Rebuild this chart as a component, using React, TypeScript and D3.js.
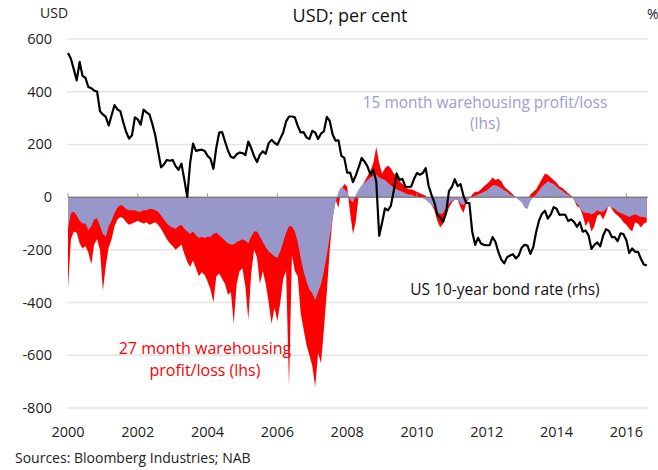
import React, { useEffect, useRef } from 'react';
import * as d3 from 'd3';

// monthly readings, Jan 2000 - Aug 2016
const startYear = 2000;

// US 10-year bond rate, per cent (rhs)
const bondRate = [
  6.66, 6.52, 6.26, 5.99, 6.44, 6.10, 6.05, 5.83, 5.80, 5.74, 5.72, 5.24, // 2000
  5.16, 5.10, 4.89, 5.14, 5.39, 5.28, 5.24, 4.97, 4.73, 4.57, 4.65, 5.09, // 2001
  5.04, 4.91, 5.28, 5.21, 5.16, 4.93, 4.65, 4.26, 3.87, 3.94, 4.05, 4.03, // 2002
  4.05, 3.90, 3.81, 3.96, 3.57, 3.15, 3.98, 4.45, 4.27, 4.29, 4.30, 4.27, // 2003
  4.15, 4.08, 3.83, 4.35, 4.72, 4.73, 4.50, 4.28, 4.13, 4.10, 4.19, 4.23, // 2004
  4.22, 4.17, 4.50, 4.34, 4.14, 4.00, 4.18, 4.26, 4.20, 4.46, 4.54, 4.47, // 2005
  4.42, 4.57, 4.72, 4.99, 5.11, 5.11, 5.09, 4.88, 4.72, 4.73, 4.60, 4.56, // 2006
  4.76, 4.72, 4.56, 4.69, 4.75, 5.10, 5.00, 4.67, 4.52, 4.53, 4.15, 4.10, // 2007
  3.74, 3.74, 3.51, 3.68, 3.88, 4.10, 4.01, 3.89, 3.69, 3.81, 3.53, 2.20, // 2008
  2.52, 2.87, 2.82, 2.93, 3.29, 3.72, 3.56, 3.59, 3.40, 3.39, 3.40, 3.59, // 2009
  3.73, 3.69, 3.73, 3.85, 3.42, 3.20, 3.01, 2.70, 2.65, 2.54, 2.76, 3.29, // 2010
  3.39, 3.58, 3.41, 3.46, 3.17, 3.00, 3.00, 2.30, 1.98, 2.15, 2.01, 1.98, // 2011
  1.97, 1.97, 2.17, 2.05, 1.80, 1.62, 1.53, 1.68, 1.72, 1.75, 1.65, 1.72, // 2012
  1.91, 1.98, 1.96, 1.76, 1.93, 2.30, 2.58, 2.74, 2.81, 2.62, 2.72, 2.90, // 2013
  2.86, 2.71, 2.72, 2.71, 2.56, 2.60, 2.54, 2.42, 2.53, 2.30, 2.33, 2.21, // 2014
  1.88, 1.98, 2.04, 1.94, 2.20, 2.36, 2.32, 2.17, 2.17, 2.07, 2.26, 2.24, // 2015
  2.09, 1.78, 1.89, 1.81, 1.81, 1.64, 1.50, 1.48 // 2016
];

// 27 month warehousing profit/loss, USD (lhs)
const profit27 = [
  -345, -160, -130, -135, -175, -195, -185, -210, -255, -180, -160, -200, // 2000
  -355, -260, -190, -160, -110, -85, -75, -80, -95, -105, -100, -95, // 2001
  -90, -95, -100, -95, -105, -100, -95, -105, -120, -140, -160, -175, // 2002
  -185, -200, -190, -180, -215, -245, -265, -240, -270, -300, -285, -295, // 2003
  -320, -350, -400, -300, -290, -310, -330, -370, -360, -480, -330, -280, // 2004
  -270, -340, -465, -290, -200, -230, -330, -280, -330, -400, -480, -420, // 2005
  -470, -400, -310, -280, -720, -220, -280, -300, -440, -500, -560, -600, // 2006
  -640, -720, -590, -630, -500, -360, -200, -80, -10, -40, 30, 50, // 2007
  40, -60, -140, -90, 10, 40, 60, 80, 100, 130, 190, 130, // 2008
  90, 110, 120, 110, 90, 80, 60, 50, 40, 30, 30, 25, // 2009
  20, 15, 10, 5, -10, -30, -50, -90, -115, -100, -70, -40, // 2010
  -20, -10, -10, -40, -60, -20, -5, 10, 20, 20, 30, 40, // 2011
  50, 60, 75, 65, 70, 60, 40, 30, 20, 10, 0, -10, // 2012
  -15, -5, -10, 10, 20, 30, 50, 70, 90, 85, 75, 65, // 2013
  55, 40, 35, 25, 15, 5, -10, -35, -40, -70, -110, -90, // 2014
  -130, -110, -70, -65, -85, -60, -30, -45, -60, -70, -80, -95, // 2015
  -105, -120, -130, -95, -100, -115, -100, -95 // 2016
];

// 15 month warehousing profit/loss, USD (lhs)
const profit15 = [
  -120, -60, -55, -70, -90, -100, -100, -125, -110, -85, -80, -110, // 2000
  -140, -150, -110, -90, -60, -40, -30, -35, -45, -50, -50, -50, // 2001
  -55, -55, -50, -50, -45, -45, -50, -55, -70, -85, -100, -110, // 2002
  -115, -120, -110, -105, -120, -130, -140, -130, -145, -155, -150, -155, // 2003
  -150, -150, -140, -135, -145, -155, -165, -175, -180, -180, -170, -165, // 2004
  -160, -165, -175, -150, -130, -130, -150, -170, -190, -205, -215, -225, // 2005
  -230, -205, -170, -135, -110, -110, -130, -170, -230, -280, -320, -350, // 2006
  -365, -390, -360, -330, -280, -220, -150, -80, -20, 20, 40, 30, // 2007
  20, -10, -20, 10, 30, 45, 55, 65, 75, 80, 85, 75, // 2008
  70, 65, 55, 45, 35, 30, 25, 20, 15, 10, 10, 5, // 2009
  0, 0, -5, -10, -20, -30, -40, -55, -65, -60, -40, -25, // 2010
  -15, -10, -10, -25, -30, -15, -5, 0, 5, 10, 15, 20, // 2011
  25, 35, 45, 45, 40, 35, 25, 20, 10, 5, 0, -10, // 2012
  -20, -40, -45, -15, 0, 10, 25, 40, 50, 60, 55, 50, // 2013
  40, 30, 25, 15, 10, 0, -10, -25, -40, -55, -60, -60, // 2014
  -65, -60, -50, -55, -55, -45, -35, -40, -45, -55, -60, -65, // 2015
  -70, -75, -70, -65, -70, -75, -75, -80 // 2016
];

const yearTicks = [2000, 2002, 2004, 2006, 2008, 2010, 2012, 2014, 2016];
const lhsTicks = [600, 400, 200, 0, -200, -400, -600, -800];

const width = 658;
const height = 470;
const font = "'Open Sans', sans-serif";

const App = () => {
  const ref = useRef<SVGSVGElement>(null);

  useEffect(() => {
    const svg = d3.select(ref.current);
    svg.selectAll('*').remove();

    const x = d3.scaleLinear().domain([2000, 2016.62]).range([68, 648]);
    const y = d3.scaleLinear().domain([-800, 600]).range([408, 39]);
    // right hand axis has no labels, only the % unit
    const yr = d3.scaleLinear().domain([-2, 7]).range([408, 39]);

    const t = (i: number) => startYear + i / 12;

    // gridlines
    svg.selectAll('grid')
      .data(lhsTicks.filter(d => d !== 0))
      .enter()
      .append('line')
      .attr('x1', x(2000) - 1)
      .attr('x2', 648)
      .attr('y1', d => y(d))
      .attr('y2', d => y(d))
      .attr('stroke', '#e4e4e4')
      .attr('stroke-width', 1.5);

    const area = (vals: number[]) => d3.area<number>()
      .x((d, i) => x(t(i)))
      .y0(y(0))
      .y1(d => y(d))(vals);

    // 27 month behind, 15 month on top
    svg.append('path')
      .attr('d', area(profit27))
      .attr('fill', '#ff0000');

    svg.append('path')
      .attr('d', area(profit15))
      .attr('fill', '#9797c9');

    // zero axis + ticks
    svg.append('line')
      .attr('x1', x(2000))
      .attr('x2', 648)
      .attr('y1', y(0))
      .attr('y2', y(0))
      .attr('stroke', '#6b6b6b')
      .attr('stroke-width', 1);

    svg.selectAll('xticks')
      .data(yearTicks)
      .enter()
      .append('line')
      .attr('x1', d => x(d))
      .attr('x2', d => x(d))
      .attr('y1', y(0))
      .attr('y2', y(0) - 4)
      .attr('stroke', '#9a9a9a');

    // bond rate
    const line = d3.line<number>()
      .x((d, i) => x(t(i)))
      .y(d => yr(d));

    svg.append('path')
      .attr('d', line(bondRate))
      .attr('fill', 'none')
      .attr('stroke', '#000')
      .attr('stroke-width', 2.2)
      .attr('stroke-linejoin', 'round');

    // axis labels
    svg.selectAll('ylabels')
      .data(lhsTicks)
      .enter()
      .append('text')
      .attr('x', 52)
      .attr('y', d => y(d) + 5)
      .attr('text-anchor', 'end')
      .attr('font-size', 14.5)
      .attr('fill', '#222')
      .text(d => d);

    svg.selectAll('xlabels')
      .data(yearTicks)
      .enter()
      .append('text')
      .attr('x', d => x(d))
      .attr('y', 437)
      .attr('text-anchor', 'middle')
      .attr('font-size', 14.5)
      .attr('fill', '#222')
      .text(d => d);

    svg.append('text')
      .attr('x', 40).attr('y', 18)
      .attr('font-size', 14)
      .attr('fill', '#222')
      .text('USD');

    svg.append('text')
      .attr('x', 647).attr('y', 19)
      .attr('font-size', 14)
      .attr('fill', '#222')
      .text('%');

    svg.append('text')
      .attr('x', 350).attr('y', 22)
      .attr('text-anchor', 'middle')
      .attr('font-size', 18)
      .attr('fill', '#111')
      .text('USD; per cent');

    // series annotations, one text per line
    const label = (lines: string[], cx: number, top: number, gap: number, size: number, color: string) => {
      lines.forEach((s, i) => {
        svg.append('text')
          .attr('x', cx)
          .attr('y', top + i * gap)
          .attr('text-anchor', 'middle')
          .attr('font-size', size)
          .attr('fill', color)
          .text(s);
      });
    };

    label(['15 month warehousing profit/loss', '(lhs)'], 485, 108, 21, 15.5, '#9c9cd2');
    label(['27 month warehousing', 'profit/loss (lhs)'], 205, 354, 22, 16, '#ff0000');
    label(['US 10-year bond rate (rhs)'], 505, 295, 0, 15.5, '#111');

    svg.append('text')
      .attr('x', 15).attr('y', 463)
      .attr('font-size', 14)
      .attr('fill', '#222')
      .text('Sources: Bloomberg Industries; NAB');
  }, []);

  return (
    <svg
      ref={ref}
      width={width}
      height={height}
      fontFamily={font}
      style={{ position: 'absolute', left: 0, top: 0, background: '#fff' }}
    />
  );
};

export default App;
